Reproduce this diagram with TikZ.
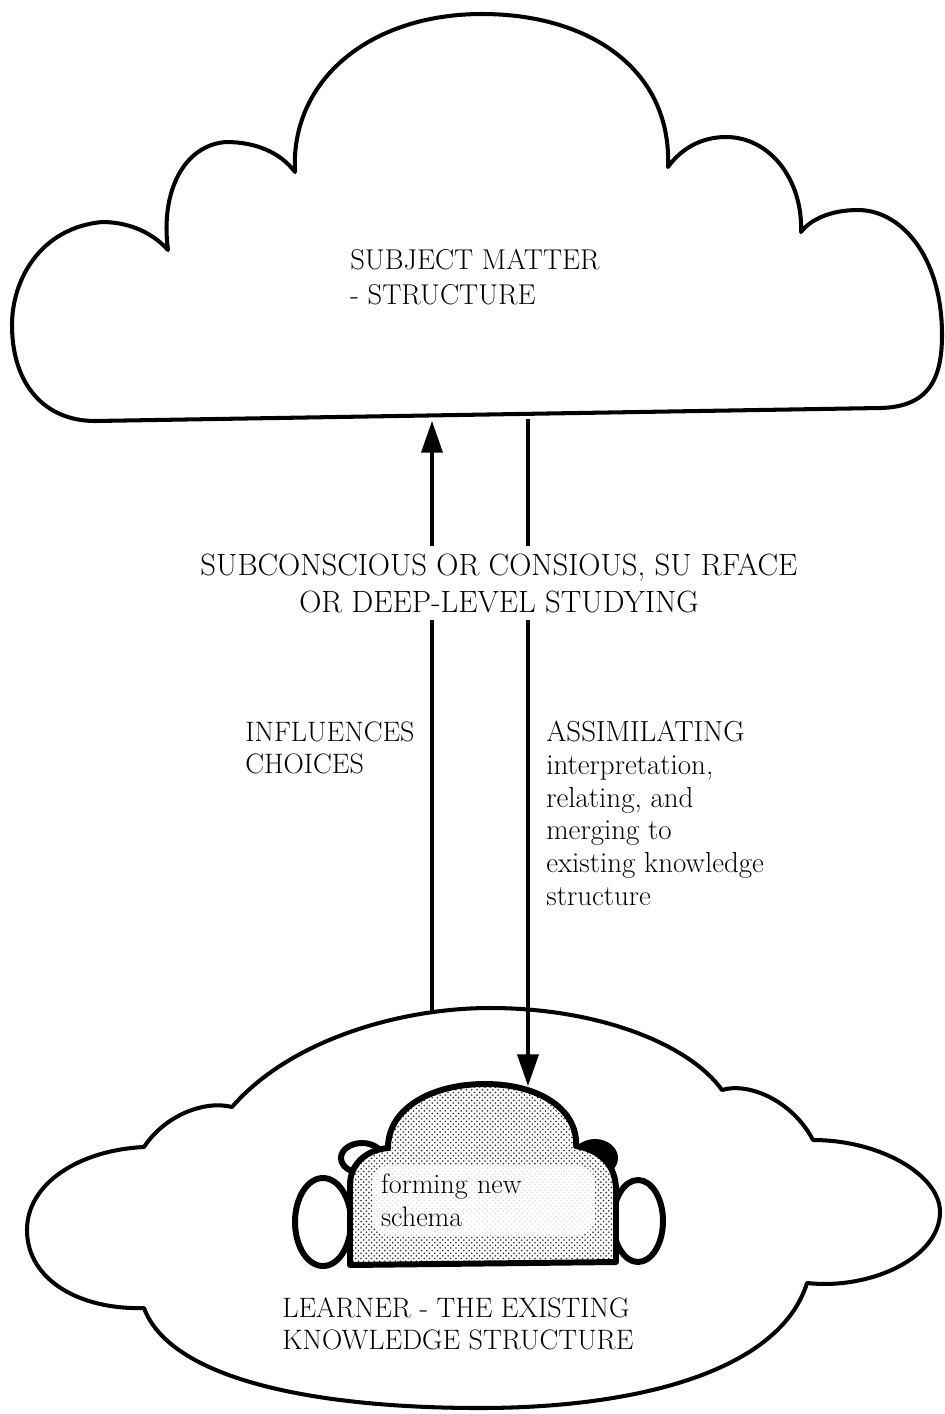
\documentclass[tikz,border=0pt]{standalone}
\usetikzlibrary{arrows.meta,patterns}
\tikzset{
  cloudline/.style={line width=2.3pt, line join=round},
  schemaline/.style={line width=3.4pt, line join=round},
  flow/.style={line width=1.9pt, -{Triangle[length=18pt,width=12pt]}},
  cloudtext/.style={font=\fontsize{16}{18.6}\selectfont, align=left, inner sep=0pt},
}
\begin{document}
\begin{tikzpicture}[x=0.02cm, y=-0.02cm]
    \useasboundingbox (0,0) rectangle (944,1414);

    \draw[cloudline] (95,421) -- (880,408) .. controls (928,407) and (942,380) .. (942,335)
      .. controls (942,255) and (900,210) .. (858,210) .. controls (830,210) and (810,220) .. (801,232)
      .. controls (803,180) and (770,137) .. (726,137) .. controls (700,137) and (680,150) .. (668,167)
      .. controls (672,70) and (590,14) .. (482,14) .. controls (370,14) and (290,80) .. (295,172)
      .. controls (280,152) and (255,142) .. (226,142) .. controls (185,145) and (160,190) .. (168,250)
      .. controls (150,230) and (125,222) .. (102,222) .. controls (40,228) and (12,280) .. (12,325)
      .. controls (12,385) and (45,421) .. (95,421) -- cycle;

    \draw[cloudline] (232,1107) .. controls (290,1040) and (400,1008) .. (490,1008)
      .. controls (600,1008) and (690,1045) .. (722,1090)
      .. controls (748,1082) and (792,1100) .. (813,1140)
      .. controls (880,1140) and (940,1175) .. (940,1212) .. controls (940,1258) and (870,1290) .. (807,1283)
      .. controls (780,1370) and (640,1408) .. (480,1408) .. controls (310,1408) and (170,1378) .. (144,1308)
      .. controls (80,1310) and (27,1280) .. (27,1230) .. controls (27,1183) and (80,1150) .. (144,1147)
      .. controls (165,1115) and (205,1100) .. (232,1107) -- cycle;

    \draw[schemaline, fill=white] (362,1158) ellipse [x radius=21, y radius=15];
    \fill (595,1158) ellipse [x radius=23, y radius=19];
    \draw[schemaline, fill=white] (323,1222) ellipse [x radius=28, y radius=44];
    \draw[schemaline, fill=white] (638,1221) ellipse [x radius=25, y radius=41];
    \draw[schemaline, preaction={fill=white}, pattern=crosshatch dots, pattern color=black!85]
      (350,1265) -- (350,1185) .. controls (350,1165) and (365,1150) .. (388,1148)
      .. controls (388,1108) and (432,1084) .. (485,1084) .. controls (540,1084) and (578,1110) .. (576,1146)
      .. controls (600,1150) and (616,1165) .. (616,1190) -- (616,1262) -- cycle;

    \node[cloudtext, anchor=north west, fill=white, fill opacity=0.85, text opacity=1,
      rounded corners=10pt, inner sep=5pt, text width=4.1cm] (schema) at (372,1165) {forming new\\schema};

    \coordinate (inflA) at (432,1012);
    \coordinate (inflB) at (432,421);
    \coordinate (assimA) at (528,419);
    \coordinate (assimB) at (528,1086);
    \draw[flow] (inflA) -- (inflB);
    \draw[flow] (assimA) -- (assimB);

    \node[font=\fontsize{17.5}{21}\selectfont, align=center, fill=white, inner sep=4pt, anchor=north]
      (studying) at (499,546) {SUBCONSCIOUS OR CONSIOUS, SU RFACE\\OR DEEP-LEVEL STUDYING};

    \node[cloudtext, anchor=north west, font=\fontsize{16.3}{19.8}\selectfont] (subject) at (350,249) {SUBJECT MATTER\\- STRUCTURE};
    \node[cloudtext, anchor=north west] (influences) at (245,721) {INFLUENCES\\CHOICES};
    \node[cloudtext, anchor=north west, font=\fontsize{16.5}{18.6}\selectfont] (assimilating) at (546,721)
      {ASSIMILATING\\interpretation,\\relating, and\\merging to\\existing knowledge\\structure};
    \node[cloudtext, anchor=north west] (learner) at (282,1297) {LEARNER - THE EXISTING\\KNOWLEDGE STRUCTURE};
  \end{tikzpicture}
\end{document}
